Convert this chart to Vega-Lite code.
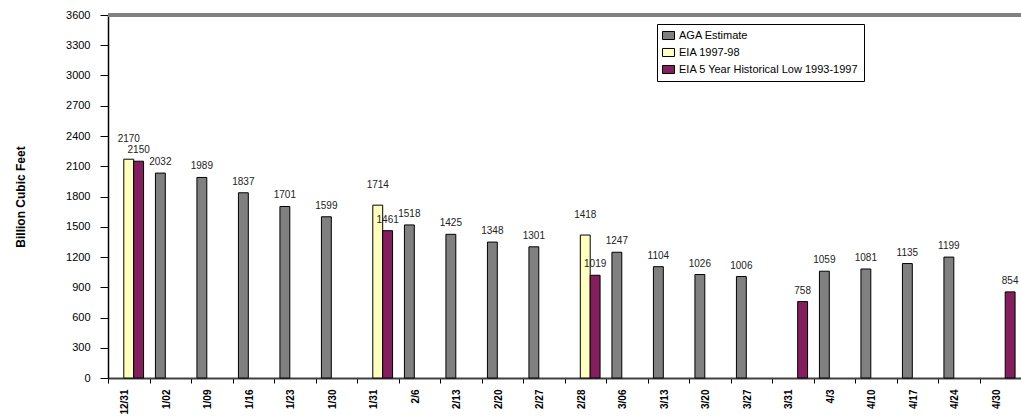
{
  "$schema": "https://vega.github.io/schema/vega-lite/v6.json",
  "width": 913,
  "height": 363,
  "autosize": {"type": "none"},
  "padding": {"left": 108, "top": 15, "right": 0, "bottom": 39},
  "background": "white",
  "config": {
    "view": {"stroke": null},
    "font": "Liberation Sans",
    "axis": {"grid": false},
    "axisX": {
      "title": null,
      "labelAngle": -90, "labelAlign": "right", "labelBaseline": "middle",
      "labelFontWeight": "bold", "labelFontSize": 10, "labelColor": "#000",
      "labelPadding": 6, "labelOffset": -4,
      "tickBand": "extent", "tickSize": 5, "tickColor": "#000", "tickWidth": 1,
      "domainColor": "#404040", "domainWidth": 2
    },
    "axisY": {
      "titleFontWeight": "bold", "titleFontSize": 12, "titleColor": "#000",
      "titleX": -88, "titleBaseline": "middle",
      "format": "d", "labelOverlap": false,
      "labelFontSize": 11, "labelColor": "#000", "labelPadding": 10,
      "tickSize": 8, "tickColor": "#000", "domainColor": "#000", "domainWidth": 1.5
    }
  },
  "data": {
    "values": [
      {"date": "12/31", "series": "EIA 1997-98", "value": 2170},
      {"date": "12/31", "series": "EIA 5 Year Historical Low 1993-1997", "value": 2150},
      {"date": "1/02", "series": "AGA Estimate", "value": 2032},
      {"date": "1/09", "series": "AGA Estimate", "value": 1989},
      {"date": "1/16", "series": "AGA Estimate", "value": 1837},
      {"date": "1/23", "series": "AGA Estimate", "value": 1701},
      {"date": "1/30", "series": "AGA Estimate", "value": 1599},
      {"date": "1/31", "series": "EIA 1997-98", "value": 1714},
      {"date": "1/31", "series": "EIA 5 Year Historical Low 1993-1997", "value": 1461},
      {"date": "2/6", "series": "AGA Estimate", "value": 1518},
      {"date": "2/13", "series": "AGA Estimate", "value": 1425},
      {"date": "2/20", "series": "AGA Estimate", "value": 1348},
      {"date": "2/27", "series": "AGA Estimate", "value": 1301},
      {"date": "2/28", "series": "EIA 1997-98", "value": 1418},
      {"date": "2/28", "series": "EIA 5 Year Historical Low 1993-1997", "value": 1019},
      {"date": "3/06", "series": "AGA Estimate", "value": 1247},
      {"date": "3/13", "series": "AGA Estimate", "value": 1104},
      {"date": "3/20", "series": "AGA Estimate", "value": 1026},
      {"date": "3/27", "series": "AGA Estimate", "value": 1006},
      {"date": "3/31", "series": "EIA 5 Year Historical Low 1993-1997", "value": 758},
      {"date": "4/3", "series": "AGA Estimate", "value": 1059},
      {"date": "4/10", "series": "AGA Estimate", "value": 1081},
      {"date": "4/17", "series": "AGA Estimate", "value": 1135},
      {"date": "4/24", "series": "AGA Estimate", "value": 1199},
      {"date": "4/30", "series": "EIA 5 Year Historical Low 1993-1997", "value": 854}
    ]
  },
  "layer": [
    {
      "mark": {"type": "bar", "stroke": "#000", "strokeWidth": 1},
      "encoding": {
        "x": {
          "field": "date", "type": "nominal", "sort": null,
          "scale": {"paddingInner": 0, "paddingOuter": 0}
        },
        "xOffset": {
          "field": "series", "type": "nominal",
          "scale": {"domain": ["AGA Estimate", "EIA 1997-98", "EIA 5 Year Historical Low 1993-1997"], "paddingInner": 0, "paddingOuter": 0.6}
        },
        "y": {
          "field": "value", "type": "quantitative",
          "scale": {"domain": [0, 3600], "nice": false},
          "axis": {"title": "Billion Cubic Feet", "values": [0, 300, 600, 900, 1200, 1500, 1800, 2100, 2400, 2700, 3000, 3300, 3600]}
        },
        "color": {
          "field": "series", "type": "nominal",
          "scale": {"domain": ["AGA Estimate", "EIA 1997-98", "EIA 5 Year Historical Low 1993-1997"], "range": ["#808080", "#ffffc0", "#841f5e"]},
          "legend": {
            "title": null, "orient": "none", "legendX": 549, "legendY": 9,
            "fillColor": "white", "strokeColor": "#000", "padding": 5,
            "symbolType": "M-1,-0.67H1V0.67H-1Z", "symbolSize": 144, "symbolStrokeColor": "#000", "symbolStrokeWidth": 1, "symbolOpacity": 1,
            "labelFontSize": 11, "labelColor": "#000", "rowPadding": 4, "labelOffset": 4,
            "labelLimit": 400
          }
        }
      }
    },
    {
      "transform": [{"filter": "datum.series !== 'EIA 1997-98'"}],
      "mark": {"type": "text", "baseline": "bottom", "dy": -6, "fontSize": 10, "fill": "#222"},
      "encoding": {
        "x": {"field": "date", "type": "nominal", "sort": null},
        "xOffset": {"field": "series", "type": "nominal"},
        "y": {"field": "value", "type": "quantitative", "axis": {"title": "Billion Cubic Feet", "values": [0, 300, 600, 900, 1200, 1500, 1800, 2100, 2400, 2700, 3000, 3300, 3600]}},
        "text": {"field": "value", "type": "quantitative", "format": "d"}
      }
    },
    {
      "transform": [{"filter": "datum.series === 'EIA 1997-98'"}],
      "mark": {"type": "text", "baseline": "bottom", "dy": -15, "fontSize": 10, "fill": "#222"},
      "encoding": {
        "x": {"field": "date", "type": "nominal", "sort": null},
        "xOffset": {"field": "series", "type": "nominal"},
        "y": {"field": "value", "type": "quantitative", "axis": {"title": "Billion Cubic Feet", "values": [0, 300, 600, 900, 1200, 1500, 1800, 2100, 2400, 2700, 3000, 3300, 3600]}},
        "text": {"field": "value", "type": "quantitative", "format": "d"}
      }
    },
    {
      "mark": {"type": "rule", "stroke": "#808080", "strokeWidth": 3},
      "encoding": {"y": {"datum": 3600, "axis": {"title": "Billion Cubic Feet", "values": [0, 300, 600, 900, 1200, 1500, 1800, 2100, 2400, 2700, 3000, 3300, 3600]}}}
    }
  ]
}
